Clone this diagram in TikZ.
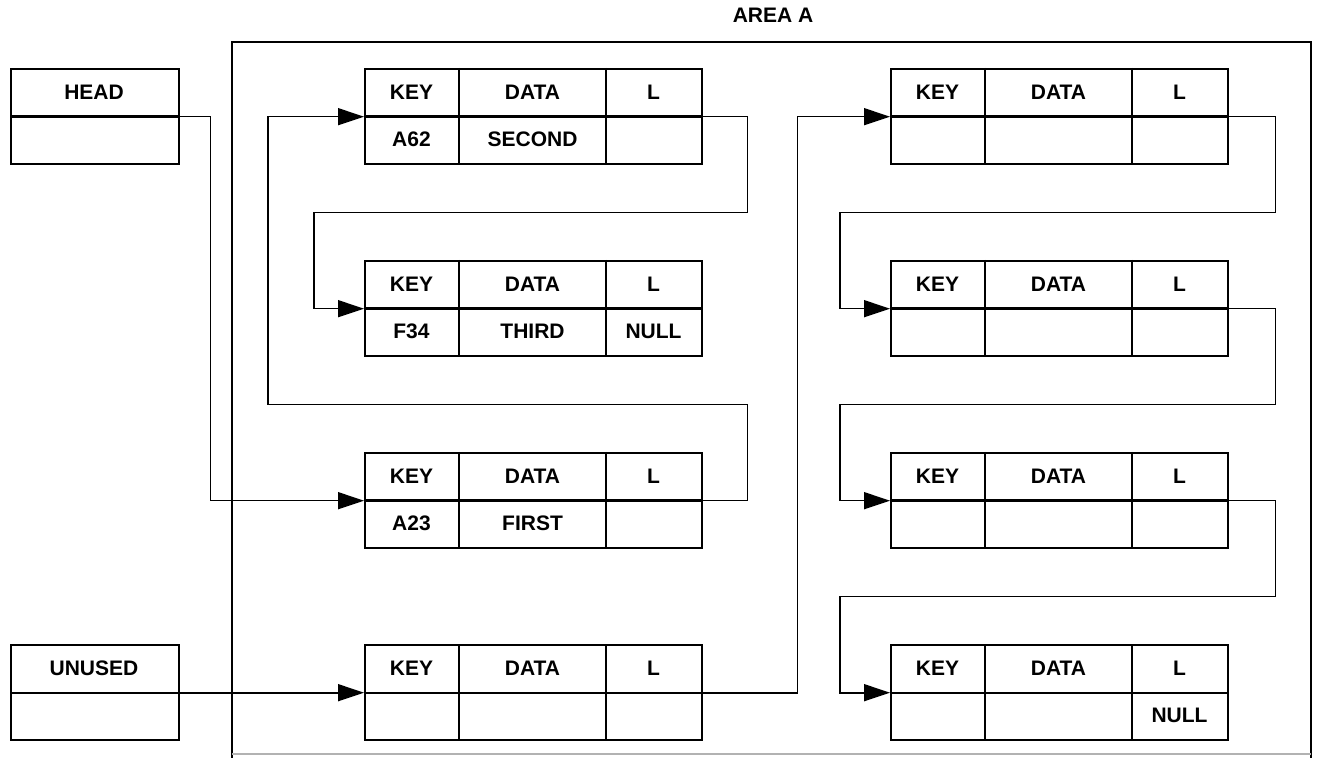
\documentclass[tikz,border=0pt]{standalone}
\usepackage{fontspec}
\setmainfont{Liberation Sans}
\usetikzlibrary{arrows.meta,calc}
\tikzset{
  rec/.style={draw, line width=1.2pt, minimum width=168.5pt,
              minimum height=47.5pt, inner sep=0pt, anchor=north west},
  lbl/.style={font=\fontsize{10.5}{12}\selectfont\bfseries, inner sep=0pt},
  sep/.style={line width=1.2pt},
  flow/.style={-{Triangle[length=13pt,width=8.5pt]}, line width=0.8pt},
  wall/.style={line width=0.8pt},
}
% one list element: name, left x, top y, key, data, link
\newcommand{\elem}[6]{%
  \node[rec] (#1) at (#2,#3) {};
  \draw[sep] (#1.west) -- (#1.east)
    ($(#1.north west)+(95,0)$) -- ($(#1.south west)+(95,0)$)
    ($(#1.north west)+(242,0)$) -- ($(#1.south west)+(242,0)$);
  \node[lbl] at ($(#1.north west)+(47.5,24)$) {KEY};
  \node[lbl] at ($(#1.north west)+(168.5,24)$) {DATA};
  \node[lbl] at ($(#1.north west)+(289.5,24)$) {L};
  \node[lbl] at ($(#1.north west)+(47.5,71)$) {#4};
  \node[lbl] at ($(#1.north west)+(168.5,71)$) {#5};
  \node[lbl] at ($(#1.north west)+(289.5,71)$) {#6};
}

\begin{document}
\begin{tikzpicture}[x=0.5pt,y=-0.5pt]
  \useasboundingbox (0,0) rectangle (1317,758);
  % area A
  \draw[wall] (232,758) -- (232,42) -- (1311,42) -- (1311,758);
  \draw[wall, gray!60] (232,754) -- (1311,754);
  \node[lbl] (area) at (773,15) {AREA A};
  % head and unused
  \node[rec, minimum width=84pt] (head) at (10,68) {};
  \draw[sep] (head.west) -- (head.east);
  \node[lbl] at ($(head.north west)+(84,24)$) {HEAD};
  \node[rec, minimum width=84pt] (unused) at (10,644) {};
  \draw[sep] (unused.west) -- (unused.east);
  \node[lbl] at ($(unused.north west)+(84,24)$) {UNUSED};
  % elements, left column
  \elem{second}{364}{68}{A62}{SECOND}{}
  \elem{third}{364}{260}{F34}{THIRD}{NULL}
  \elem{first}{364}{452}{A23}{FIRST}{}
  \elem{free1}{364}{644}{}{}{}
  % elements, right column
  \elem{free2}{890}{68}{}{}{}
  \elem{free3}{890}{260}{}{}{}
  \elem{free4}{890}{452}{}{}{}
  \elem{free5}{890}{644}{}{}{NULL}
  % used chain
  \draw[flow] (head.east) -- ++(30,0) |- (first.west);
  \draw[flow] (first.east) -- ++(44,0) -- ++(0,-96)
    -| ($(second.west)+(-96,0)$) -- (second.west);
  \draw[flow] (second.east) -- ++(44,0) -- ++(0,96)
    -| ($(third.west)+(-50,0)$) -- (third.west);
  % unused chain
  \draw[flow] (unused.east) -- (free1.west);
  \draw[flow] (free1.east) -- ++(94,0) |- (free2.west);
  \draw[flow] (free2.east) -- ++(46,0) -- ++(0,96)
    -| ($(free3.west)+(-50,0)$) -- (free3.west);
  \draw[flow] (free3.east) -- ++(46,0) -- ++(0,96)
    -| ($(free4.west)+(-50,0)$) -- (free4.west);
  \draw[flow] (free4.east) -- ++(46,0) -- ++(0,96)
    -| ($(free5.west)+(-50,0)$) -- (free5.west);
\end{tikzpicture}
\end{document}
